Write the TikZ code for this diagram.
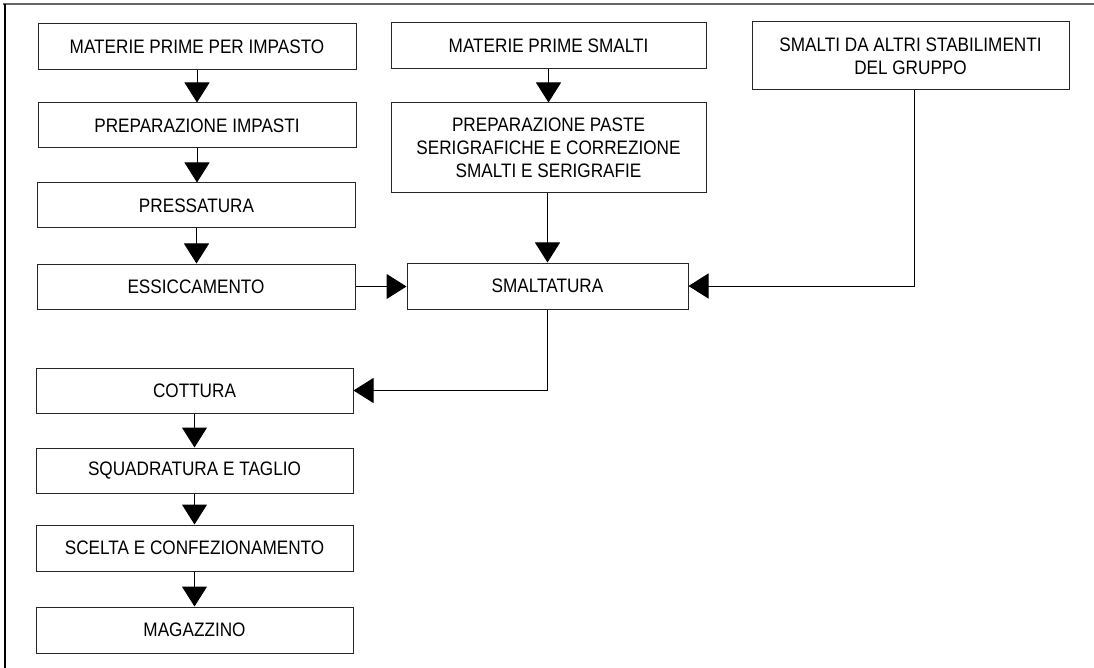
\documentclass[tikz,border=0pt]{standalone}
\usepackage{fontspec}
\setmainfont{Liberation Sans}[FakeStretch=0.88]
\usetikzlibrary{arrows.meta}
\tikzset{
  box/.style={draw=black!85, line width=1pt, inner sep=0pt, align=center,
    font=\fontsize{19.5}{23}\selectfont},
  flow/.style={draw=black, line width=1pt, -{Triangle[length=20pt,width=25pt]}},
  frameline/.style={draw=black!60, line width=1.2pt}
}
\begin{document}
\begin{tikzpicture}[x=1pt,y=-1pt]
\useasboundingbox (0,0) rectangle (1094,668);
% frame
\coordinate (f0) at (3,4);
\coordinate (f1) at (1094,4);
\coordinate (f2) at (5,4);
\coordinate (f3) at (5,668);
\draw[frameline] (f0) -- (f1);
\draw[frameline, draw=black] (f2) -- (f3);
% left column
\node[box, minimum width=318pt, minimum height=46pt] (A) at (197,47) {MATERIE PRIME PER IMPASTO};
\node[box, minimum width=318pt, minimum height=45pt] (B) at (197,125.5) {PREPARAZIONE IMPASTI};
\node[box, minimum width=318pt, minimum height=45pt] (C) at (196.5,205.5) {PRESSATURA};
\node[box, minimum width=318pt, minimum height=45pt] (D) at (196,286.5) {ESSICCAMENTO};
\node[box, minimum width=317pt, minimum height=45pt] (E) at (194.5,390.5) {COTTURA};
\node[box, minimum width=317pt, minimum height=45pt] (F) at (194.5,470.5) {SQUADRATURA E TAGLIO};
\node[box, minimum width=317pt, minimum height=46pt] (G) at (194.5,548) {SCELTA E CONFEZIONAMENTO};
\node[box, minimum width=317pt, minimum height=46pt] (H) at (194.5,630) {MAGAZZINO};
% middle column
\node[box, minimum width=315pt, minimum height=46pt] (M1) at (548.5,46) {MATERIE PRIME SMALTI};
\node[box, minimum width=315pt, minimum height=90pt] (M2) at (548.5,148) {PREPARAZIONE PASTE\\SERIGRAFICHE E CORREZIONE\\SMALTI E SERIGRAFIE};
\node[box, minimum width=281pt, minimum height=46pt] (S) at (547.5,286) {SMALTATURA};
% right column
\node[box, minimum width=317pt, minimum height=68pt] (R) at (910.5,56) {SMALTI DA ALTRI STABILIMENTI\\DEL GRUPPO};
% connectors
\draw[flow] (A.south) -- (A.south |- B.north);
\draw[flow] (B.south) -- (B.south |- C.north);
\draw[flow] (C.south) -- (C.south |- D.north);
\draw[flow] (D.east) -- (D.east -| S.west);
\draw[flow] (M1.south) -- (M1.south |- M2.north);
\draw[flow] (M2.south -| S.north) -- (S.north);
\draw[flow] ([xshift=3.5pt]R.south) |- (S.east);
\draw[flow] (S.south) |- (E.east);
\draw[flow] (E.south) -- (E.south |- F.north);
\draw[flow] (F.south) -- (F.south |- G.north);
\draw[flow] (G.south) -- (G.south |- H.north);
\end{tikzpicture}
\end{document}
